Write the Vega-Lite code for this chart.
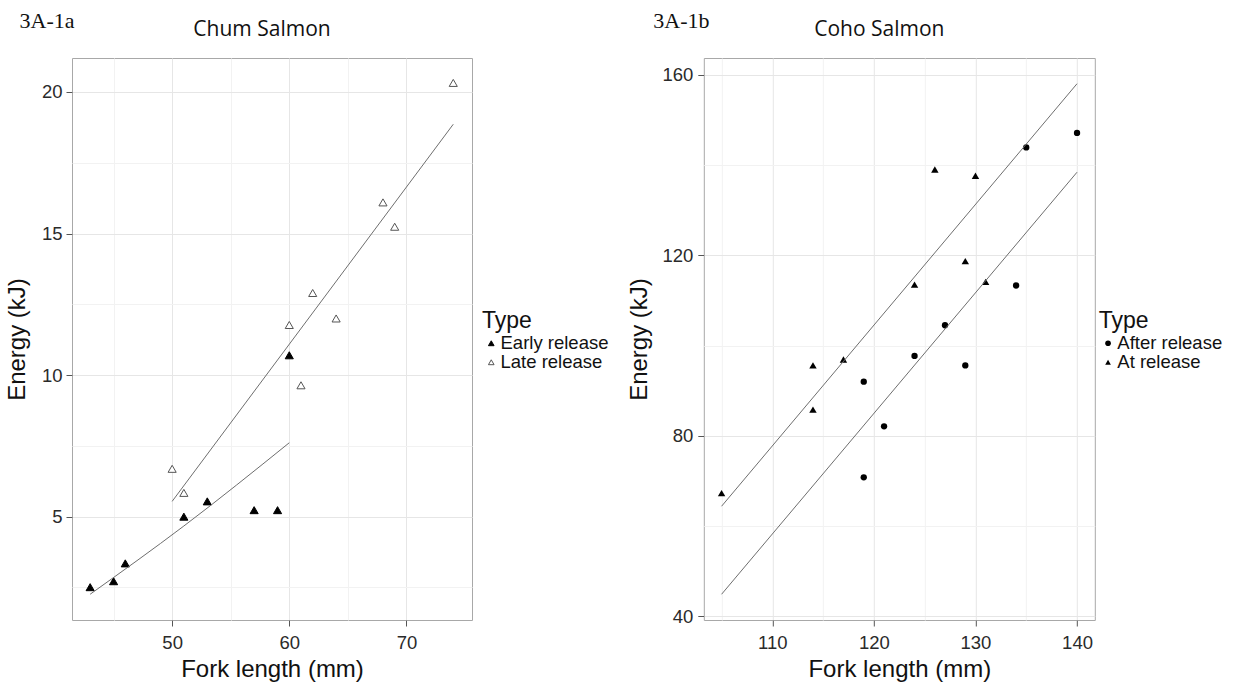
{
  "$schema": "https://vega.github.io/schema/vega-lite/v6.json",
  "background": "white",
  "padding": {"left": 4, "top": 9, "right": 5, "bottom": 2},
  "config": {
    "font": "Liberation Sans",
    "view": {"stroke": "#a8a8a8", "strokeWidth": 1},
    "axis": {
      "domain": false,
      "tickColor": "#555555",
      "tickSize": 6,
      "labelFont": "Liberation Sans",
      "labelFontSize": 18.5,
      "labelColor": "#2a2a2a",
      "titleFont": "Liberation Sans",
      "titleFontSize": 24,
      "titleFontWeight": "normal",
      "titleColor": "#111111"
    },
    "axisX": {"labelPadding": 7, "titlePadding": 6},
    "legend": {
      "titleFont": "Liberation Sans",
      "titleFontSize": 23,
      "titleFontWeight": "normal",
      "titleColor": "#111111",
      "titlePadding": 1,
      "labelFont": "Liberation Sans",
      "labelFontSize": 18.5,
      "labelColor": "#111111",
      "labelOffset": 0,
      "rowPadding": 0,
      "symbolSize": 32,
      "symbolStrokeWidth": 1
    },
    "title": {"font": "Open Sans", "fontSize": 21, "fontWeight": "normal", "color": "#111111"}
  },
  "datasets": {
    "chum": [
      {"Type": "Early release", "length": 43, "energy": 2.51},
      {"Type": "Early release", "length": 45, "energy": 2.72},
      {"Type": "Early release", "length": 46, "energy": 3.35},
      {"Type": "Early release", "length": 51, "energy": 5.0},
      {"Type": "Early release", "length": 53, "energy": 5.54},
      {"Type": "Early release", "length": 57, "energy": 5.23},
      {"Type": "Early release", "length": 59, "energy": 5.23},
      {"Type": "Early release", "length": 60, "energy": 10.7},
      {"Type": "Late release", "length": 50, "energy": 6.69},
      {"Type": "Late release", "length": 51, "energy": 5.84},
      {"Type": "Late release", "length": 60, "energy": 11.77},
      {"Type": "Late release", "length": 61, "energy": 9.64},
      {"Type": "Late release", "length": 62, "energy": 12.9},
      {"Type": "Late release", "length": 64, "energy": 12.0},
      {"Type": "Late release", "length": 68, "energy": 16.1},
      {"Type": "Late release", "length": 69, "energy": 15.24},
      {"Type": "Late release", "length": 74, "energy": 20.32}
    ],
    "chumFit": [
      {"Type": "Early release", "length": 43, "energy": 2.26},
      {"Type": "Early release", "length": 51, "energy": 4.67},
      {"Type": "Early release", "length": 60, "energy": 7.61},
      {"Type": "Late release", "length": 50, "energy": 5.54},
      {"Type": "Late release", "length": 74, "energy": 18.86}
    ],
    "coho": [
      {"Type": "At release", "length": 105, "energy": 67.3},
      {"Type": "At release", "length": 114, "energy": 95.6},
      {"Type": "At release", "length": 114, "energy": 85.8},
      {"Type": "At release", "length": 117, "energy": 96.9},
      {"Type": "At release", "length": 124, "energy": 113.5},
      {"Type": "At release", "length": 126, "energy": 139.0},
      {"Type": "At release", "length": 129, "energy": 118.7},
      {"Type": "At release", "length": 130, "energy": 137.6},
      {"Type": "At release", "length": 131, "energy": 114.1},
      {"Type": "After release", "length": 119, "energy": 92.0},
      {"Type": "After release", "length": 119, "energy": 70.8},
      {"Type": "After release", "length": 121, "energy": 82.1},
      {"Type": "After release", "length": 124, "energy": 97.7},
      {"Type": "After release", "length": 127, "energy": 104.5},
      {"Type": "After release", "length": 129, "energy": 95.6},
      {"Type": "After release", "length": 134, "energy": 113.3},
      {"Type": "After release", "length": 135, "energy": 143.9},
      {"Type": "After release", "length": 140, "energy": 147.1}
    ],
    "cohoFit": [
      {"Type": "At release", "length": 105, "energy": 64.4},
      {"Type": "At release", "length": 140, "energy": 158.0},
      {"Type": "After release", "length": 105, "energy": 44.9},
      {"Type": "After release", "length": 140, "energy": 138.4}
    ]
  },
  "resolve": {"scale": {"fill": "independent", "stroke": "independent", "shape": "independent"}, "legend": {"fill": "independent", "stroke": "independent", "shape": "independent"}},
  "spacing": 17.8,
  "hconcat": [
    {
      "title": {"text": "3A-1a", "font": "Liberation Serif", "fontSize": 22, "anchor": "start", "frame": "bounds", "offset": -14, "dx": 15, "color": "#111111"},
      "vconcat": [
        {
          "width": 400,
          "height": 562,
          "title": {"text": "Chum Salmon", "anchor": "middle", "frame": "group", "dx": -10, "offset": 18},
          "layer": [
            {
              "data": {"name": "chum"},
              "mark": {"type": "point", "shape": "triangle-up", "size": 66, "strokeWidth": 1, "opacity": 1},
              "encoding": {
                "x": {
                  "field": "length", "type": "quantitative",
                  "scale": {"domain": [41.45, 75.6], "nice": false, "zero": false},
                  "axis": {
                    "title": "Fork length (mm)",
                    "values": [45, 50, 55, 60, 65, 70],
                    "labelExpr": "datum.value % 10 === 0 ? datum.label : ''",
                    "tickOpacity": {"condition": {"test": "datum.value % 10 === 0", "value": 1}, "value": 0},
                    "gridColor": {"condition": {"test": "datum.value % 10 === 0", "value": "#e6e6e6"}, "value": "#f2f2f2"}
                  }
                },
                "y": {
                  "field": "energy", "type": "quantitative",
                  "scale": {"domain": [1.35, 21.2], "nice": false, "zero": false},
                  "axis": {
                    "title": "Energy (kJ)",
                    "values": [2.5, 5, 7.5, 10, 12.5, 15, 17.5, 20],
                    "labelExpr": "datum.value % 5 === 0 ? datum.label : ''",
                    "labelPadding": 4,
                    "titlePadding": 12,
                    "minExtent": 31,
                    "maxExtent": 31,
                    "tickOpacity": {"condition": {"test": "datum.value % 5 === 0", "value": 1}, "value": 0},
                    "gridColor": {"condition": {"test": "datum.value % 5 === 0", "value": "#e6e6e6"}, "value": "#f2f2f2"}
                  }
                },
                "fill": {
                  "field": "Type", "type": "nominal",
                  "scale": {"domain": ["Early release", "Late release"], "range": ["#000000", "#ffffff"]},
                  "legend": {"title": "Type", "orient": "none", "legendX": 410, "legendY": 252, "symbolType": "triangle-up"}
                },
                "stroke": {
                  "field": "Type", "type": "nominal",
                  "scale": {"domain": ["Early release", "Late release"], "range": ["#000000", "#555555"]},
                  "legend": {"title": "Type", "orient": "none", "legendX": 410, "legendY": 252, "symbolType": "triangle-up"}
                }
              }
            },
            {
              "data": {"name": "chumFit"},
              "mark": {"type": "line", "color": "#6e6e6e", "strokeWidth": 1, "interpolate": "monotone"},
              "encoding": {
                "x": {"field": "length", "type": "quantitative"},
                "y": {"field": "energy", "type": "quantitative"},
                "detail": {"field": "Type", "type": "nominal"}
              }
            }
          ]
        }
      ]
    },
    {
      "title": {"text": "3A-1b", "font": "Liberation Serif", "fontSize": 22, "anchor": "start", "frame": "bounds", "offset": -14, "dx": 26, "color": "#111111"},
      "vconcat": [
        {
          "width": 391,
          "height": 562,
          "title": {"text": "Coho Salmon", "anchor": "middle", "frame": "group", "dx": -20, "offset": 18},
          "layer": [
            {
              "data": {"name": "coho"},
              "mark": {"type": "point", "filled": true, "color": "#000000", "opacity": 1},
              "encoding": {
                "x": {
                  "field": "length", "type": "quantitative",
                  "scale": {"domain": [103.25, 141.75], "nice": false, "zero": false},
                  "axis": {
                    "title": "Fork length (mm)",
                    "values": [105, 110, 115, 120, 125, 130, 135, 140],
                    "labelExpr": "datum.value % 10 === 0 ? datum.label : ''",
                    "tickOpacity": {"condition": {"test": "datum.value % 10 === 0", "value": 1}, "value": 0},
                    "gridColor": {"condition": {"test": "datum.value % 10 === 0", "value": "#e6e6e6"}, "value": "#f2f2f2"}
                  }
                },
                "y": {
                  "field": "energy", "type": "quantitative",
                  "scale": {"domain": [39.2, 163.7], "nice": false, "zero": false},
                  "axis": {
                    "title": "Energy (kJ)",
                    "values": [40, 60, 80, 100, 120, 140, 160],
                    "labelExpr": "datum.value % 40 === 0 ? datum.label : ''",
                    "labelPadding": 5,
                    "titlePadding": 10,
                    "minExtent": 42,
                    "maxExtent": 42,
                    "tickOpacity": {"condition": {"test": "datum.value % 40 === 0", "value": 1}, "value": 0},
                    "gridColor": {"condition": {"test": "datum.value % 40 === 0", "value": "#e6e6e6"}, "value": "#f2f2f2"}
                  }
                },
                "shape": {
                  "field": "Type", "type": "nominal",
                  "scale": {"domain": ["After release", "At release"], "range": ["circle", "triangle-up"]},
                  "legend": {"title": "Type", "orient": "none", "legendX": 395, "legendY": 252}
                },
                "size": {
                  "field": "Type", "type": "nominal",
                  "scale": {"domain": ["After release", "At release"], "range": [40, 55]},
                  "legend": null
                }
              }
            },
            {
              "data": {"name": "cohoFit"},
              "mark": {"type": "line", "color": "#6e6e6e", "strokeWidth": 1},
              "encoding": {
                "x": {"field": "length", "type": "quantitative"},
                "y": {"field": "energy", "type": "quantitative"},
                "detail": {"field": "Type", "type": "nominal"}
              }
            }
          ]
        }
      ]
    }
  ]
}
